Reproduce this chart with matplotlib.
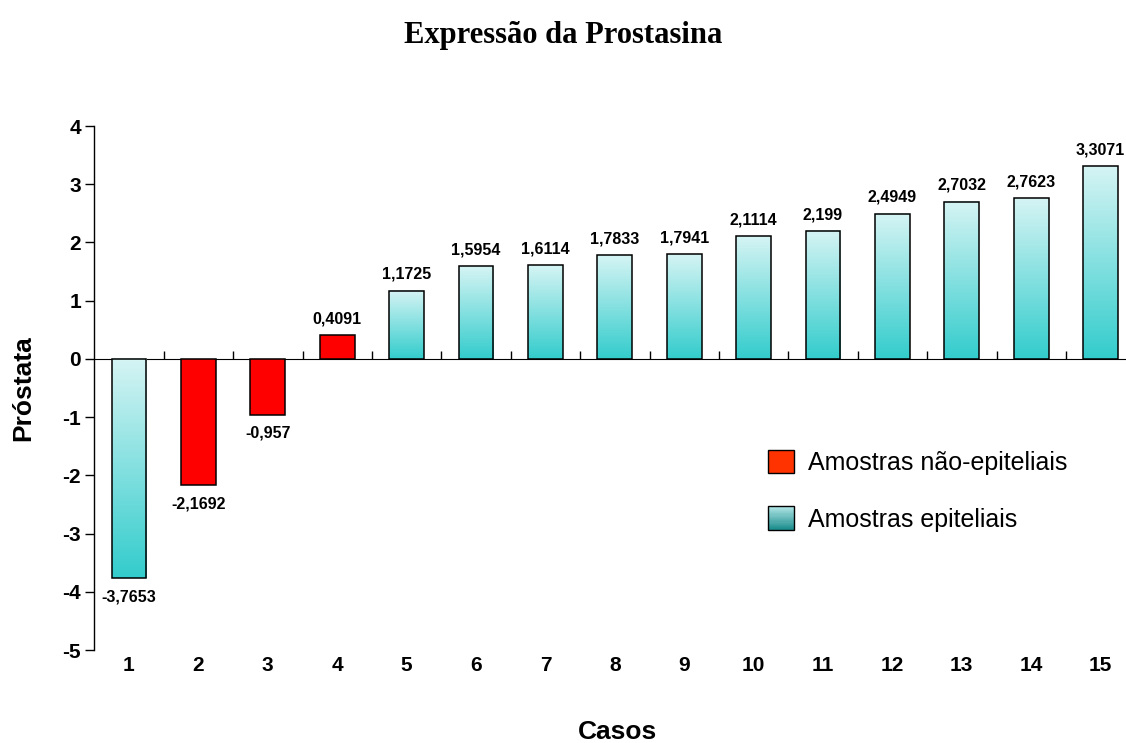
import numpy as np
import matplotlib
matplotlib.use("Agg")
import matplotlib.pyplot as plt
from matplotlib.patches import Rectangle
from matplotlib.colors import LinearSegmentedColormap
from matplotlib.legend_handler import HandlerBase

# data
cases = list(range(1, 16))
values = [-3.7653, -2.1692, -0.957, 0.4091, 1.1725, 1.5954, 1.6114, 1.7833,
          1.7941, 2.1114, 2.199, 2.4949, 2.7032, 2.7623, 3.3071]
non_epithelial = [2, 3, 4]          # cases drawn in red
legend_labels = ["Amostras não-epiteliais", "Amostras epiteliais"]

BAR_W = 0.5
TEAL = LinearSegmentedColormap.from_list("teal", ["#33cccc", "#d6f4f4"])
TEAL_LEG = LinearSegmentedColormap.from_list("teal_leg", ["#1f8f8f", "#aee4e4"])
grad = np.linspace(0, 1, 256).reshape(-1, 1)

plt.rcParams["font.family"] = ["Liberation Sans", "DejaVu Sans"]
plt.rcParams["axes.unicode_minus"] = False

fig = plt.figure(figsize=(11.26, 7.43), dpi=100)
ax = fig.add_axes([94.3 / 1126, 93 / 743, 1041 / 1126, 524 / 743])

for c, v in zip(cases, values):
    lo, hi = min(0, v), max(0, v)
    if c in non_epithelial:
        ax.bar(c, v, width=BAR_W, color="#ff0000", edgecolor="black", lw=1.1, zorder=3)
    else:
        ax.imshow(grad, cmap=TEAL, origin="lower", aspect="auto", zorder=2,
                  extent=(c - BAR_W / 2, c + BAR_W / 2, lo, hi))
        ax.bar(c, v, width=BAR_W, facecolor="none", edgecolor="black", lw=1.1, zorder=3)
    txt = str(v).replace(".", ",")
    if v >= 0:
        ax.annotate(txt, (c, v), xytext=(0, 8.5), textcoords="offset points",
                    ha="center", va="baseline", fontsize=11.5, fontweight="bold")
    else:
        ax.annotate(txt, (c, v), xytext=(0, -8), textcoords="offset points",
                    ha="center", va="top", fontsize=11.5, fontweight="bold")

ax.set_xlim(0.5, 15.5)
ax.set_ylim(-5, 4)
ax.set_yticks(range(-5, 5))
ax.set_xticks(cases)
ax.tick_params(axis="x", length=0, pad=4, labelsize=15)
ax.tick_params(axis="y", direction="out", length=6.5, width=1, pad=3, labelsize=15)
for lab in ax.get_xticklabels() + ax.get_yticklabels():
    lab.set_fontweight("bold")
for s in ("top", "right", "bottom"):
    ax.spines[s].set_visible(False)
ax.spines["left"].set_linewidth(1)

# zero line with category separator ticks
zero = ax.secondary_xaxis(5 / 9)
zero.set_xticks(np.arange(1.5, 15.5, 1.0))
zero.set_xticklabels([])
zero.tick_params(direction="out", length=6, width=1)
zero.spines["bottom"].set_linewidth(1)

ax.set_ylabel("Próstata", fontsize=19, fontweight="bold")
ax.yaxis.set_label_coords(-0.057, 0.5)
ax.set_xlabel("Casos", fontsize=19, fontweight="bold")
ax.xaxis.set_label_coords(0.503, -0.133)

fig.text(563 / 1126, 1 - 35 / 743, "Expressão da Prostasina", ha="center", va="center",
         fontsize=22, fontweight="bold", family=["Liberation Serif", "DejaVu Serif"])


class GradientHandler(HandlerBase):
    def create_artists(self, legend, orig_handle, xd, yd, width, height, fontsize, trans):
        arts = []
        n = 20
        for i in range(n):
            arts.append(Rectangle((-xd, -yd + height * i / n), width, height / n + 0.3,
                                  facecolor=TEAL_LEG(i / (n - 1)), edgecolor="none",
                                  transform=trans))
        arts.append(Rectangle((-xd, -yd), width, height, facecolor="none",
                              edgecolor="black", lw=1, transform=trans))
        return arts


red_handle = Rectangle((0, 0), 1, 1, facecolor="#ff3300", edgecolor="black", lw=1)
teal_handle = Rectangle((0, 0), 1, 1)
fig.legend([red_handle, teal_handle], legend_labels,
           handler_map={teal_handle: GradientHandler()},
           loc="upper left", bbox_to_anchor=(768 / 1126, 1 - 450 / 743),
           frameon=False, fontsize=18, borderpad=0, borderaxespad=0,
           handlelength=1.05, handleheight=1.05, handletextpad=0.55, labelspacing=1.25)

fig.savefig("out.png", dpi=100)
